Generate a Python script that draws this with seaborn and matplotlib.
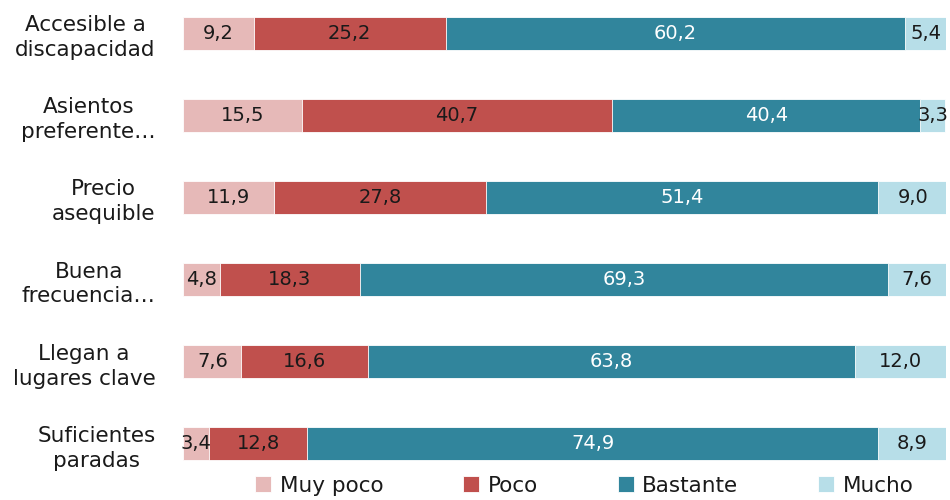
"""Stacked horizontal bars: valoración de atributos del transporte."""

import matplotlib.pyplot as plt
import numpy as np
import pandas as pd
import seaborn as sns

plt.switch_backend('agg')

CATEGORIES = ['Accesible a\ndiscapacidad', 'Asientos\npreferente\u2026',
              'Precio\nasequible', 'Buena\nfrecuencia\u2026',
              'Llegan a\nlugares clave', 'Suficientes\nparadas']
MUY_POCO = [9.2, 15.5, 11.9, 4.8, 7.6, 3.4]
POCO = [25.2, 40.7, 27.8, 18.3, 16.6, 12.8]
BASTANTE = [60.2, 40.4, 51.4, 69.3, 63.8, 74.9]
MUCHO = [5.4, 3.3, 9.0, 7.6, 12.0, 8.9]
SERIES = ['Muy poco', 'Poco', 'Bastante', 'Mucho']

COLORS = ['#E6B9B8', '#C0504D', '#31859C', '#B7DEE8']
TEXT_COLORS = ['#1a1a1a', '#1a1a1a', 'white', '#1a1a1a']
FONT_SIZE = 14
LABEL_SIZE = 15.5
BAR_HEIGHT = 0.4

sns.set_theme(style='white')
plt.rcParams['font.family'] = ['DejaVu Sans']

df = pd.DataFrame({'cat': CATEGORIES, 'Muy poco': MUY_POCO, 'Poco': POCO,
                   'Bastante': BASTANTE, 'Mucho': MUCHO})
values = df[SERIES].to_numpy()
cum = values.cumsum(axis=1)

fig, ax = plt.subplots(figsize=(9.5, 5), dpi=100)
fig.subplots_adjust(left=0.193, right=0.996, top=0.983, bottom=0.063)

# draw cumulative totals from the widest down so each segment shows
for i in reversed(range(len(SERIES))):
    sns.barplot(x=cum[:, i], y=df['cat'], orient='h', color=COLORS[i],
                width=BAR_HEIGHT, edgecolor='white', linewidth=0.6,
                saturation=1, ax=ax, label=SERIES[i])

for r in range(len(CATEGORIES)):
    for i in range(len(SERIES)):
        center = cum[r, i] - values[r, i] / 2
        ax.text(center, r, '{:.1f}'.format(values[r, i]).replace('.', ','),
                ha='center', va='center', fontsize=FONT_SIZE,
                color=TEXT_COLORS[i])

ax.set_xlim(0, 100)
ax.set_ylim(5.3, -0.3)
ax.set_xlabel('')
ax.set_ylabel('')
ax.set_xticks([])
for spine in ax.spines.values():
    spine.set_visible(False)
ax.tick_params(axis='y', length=0, pad=20, labelsize=LABEL_SIZE,
               labelcolor='#1a1a1a')
for lbl in ax.get_yticklabels():
    lbl.set_multialignment('center')
    lbl.set_linespacing(1.3)

handles, labels = ax.get_legend_handles_labels()
order = [labels.index(s) for s in SERIES]
if ax.get_legend():
    ax.get_legend().remove()
fig.legend([handles[k] for k in order], SERIES, loc='lower center',
           bbox_to_anchor=(0.615, -0.03), ncol=4, frameon=False,
           fontsize=LABEL_SIZE, handlelength=0.75, handleheight=0.75,
           handletextpad=0.4, columnspacing=3.7, labelcolor='#1a1a1a')

fig.savefig('out.png', dpi=100)
